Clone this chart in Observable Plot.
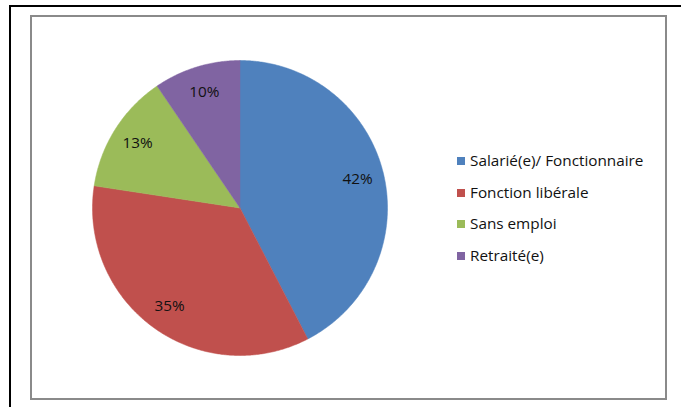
<!DOCTYPE html>
<html>
<head>
<meta charset="utf-8">
<script src="https://cdn.jsdelivr.net/npm/d3@7"></script>
<script src="https://cdn.jsdelivr.net/npm/@observablehq/plot@0.6"></script>
<style>
  html, body { margin: 0; padding: 0; background: #fff; }
  #frame { position: relative; width: 681px; height: 407px; overflow: hidden; font-family: "Open Sans", Lato, sans-serif; }
  #outerTop { position: absolute; left: 9px; top: 5px; width: 672px; height: 2px; background: #000; }
  #outerLeft { position: absolute; left: 9px; top: 5px; width: 2px; height: 402px; background: #000; }
  #inner { position: absolute; left: 30px; top: 15px; width: 633px; height: 381px; border: 2px solid #8a8a8a; box-sizing: content-box; }
  #chart { position: absolute; left: 0; top: 0; }
  #legend { position: absolute; left: 457px; top: 150px; font-size: 15.3px; color: #111; }
  .item { position: absolute; left: 0; white-space: nowrap; height: 20px; line-height: 20px; }
  .sw { display: inline-block; width: 8px; height: 8px; margin-right: 5px; vertical-align: 1px; }
</style>
</head>
<body>
<div id="frame">
  <div id="outerTop"></div>
  <div id="outerLeft"></div>
  <div id="inner"></div>
  <div id="chart"></div>
  <div id="legend"></div>
</div>
<script>
const categories = ["Salarié(e)/ Fonctionnaire", "Fonction libérale", "Sans emploi", "Retraité(e)"];
const values = [42.4, 35.0, 13.1, 9.5];
const labels = ["42%", "35%", "13%", "10%"];
const colors = ["#4F81BD", "#C0504D", "#9BBB59", "#8064A2"];

const total = d3.sum(values);
const slices = [];
const labelRows = [];
let acc = 0;
categories.forEach((c, i) => {
  const a0 = acc / total * 2 * Math.PI;
  acc += values[i];
  const a1 = acc / total * 2 * Math.PI;
  const n = Math.max(2, Math.ceil((a1 - a0) / (Math.PI / 360)));
  slices.push({cat: c, x: 0, y: 0, k: -1});
  for (let j = 0; j <= n; j++) {
    const a = a0 + (a1 - a0) * j / n;
    slices.push({cat: c, x: Math.sin(a), y: Math.cos(a), k: j});
  }
  slices.push({cat: c, x: 0, y: 0, k: n + 1});
  const am = (a0 + a1) / 2;
  labelRows.push({cat: c, label: labels[i], x: 0.82 * Math.sin(am), y: 0.82 * Math.cos(am)});
});

const W = 681, H = 407;
const cx = 239.5, cy = 207.5, R = 147.5;

const plot = Plot.plot({
  width: W,
  height: H,
  marginLeft: cx - R,
  marginRight: W - (cx + R),
  marginTop: cy - R,
  marginBottom: H - (cy + R),
  x: {domain: [-1, 1], axis: null},
  y: {domain: [-1, 1], axis: null},
  color: {domain: categories, range: colors},
  style: {background: "transparent", overflow: "visible"},
  marks: [
    Plot.line(slices, {x: "x", y: "y", z: "cat", fill: "cat", stroke: "cat", strokeWidth: 0.5, curve: "linear-closed"}),
    Plot.text(labelRows, {x: "x", y: "y", text: "label", fill: "#111", fontSize: 15.3, fontFamily: "'Open Sans', Lato, sans-serif"})
  ]
});
document.getElementById("chart").appendChild(plot);

const legend = document.getElementById("legend");
categories.forEach((c, i) => {
  const div = document.createElement("div");
  div.className = "item";
  div.style.top = (i * 31.5) + "px";
  const sw = document.createElement("span");
  sw.className = "sw";
  sw.style.background = colors[i];
  div.appendChild(sw);
  div.appendChild(document.createTextNode(c));
  legend.appendChild(div);
});
</script>
</body>
</html>
